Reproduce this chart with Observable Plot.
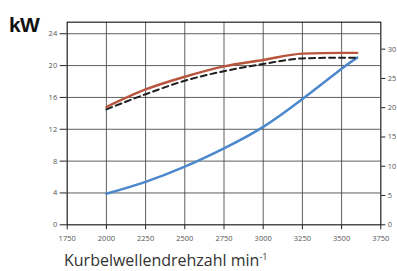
<!DOCTYPE html>
<html>
<head>
<meta charset="utf-8">
<script src="https://cdn.jsdelivr.net/npm/d3@7"></script>
<script src="https://cdn.jsdelivr.net/npm/@observablehq/plot@0.6"></script>
<style>
  html, body { margin: 0; padding: 0; background: #fff; }
  #chart { width: 397px; height: 271px; overflow: hidden; }
</style>
</head>
<body>
<div id="chart"></div>
<script>
const rpm = [2000, 2250, 2500, 2750, 3000, 3250, 3500, 3600];
const powerKW = [14.8, 17.0, 18.6, 19.9, 20.7, 21.5, 21.6, 21.6];
const dashedKW = [14.5, 16.4, 18.1, 19.3, 20.2, 20.9, 21.0, 21.0];
const blueKW = [3.9, 5.4, 7.3, 9.6, 12.3, 15.8, 19.6, 21.0];
const xTicks = [1750, 2000, 2250, 2500, 2750, 3000, 3250, 3500, 3750];
const xGrid = [2000, 2250, 2500, 2750, 3000, 3250, 3500];
const yTicks = [0, 4, 8, 12, 16, 20, 24];
const psTicks = [0, 5, 10, 15, 20, 25, 30];
const PS_PER_KW = 1.35962;
const yLabel = "kW";
const xLabel = "Kurbelwellendrehzahl min";
const xLabelSup = "-1";

const toRows = (vals) => rpm.map((r, i) => ({rpm: r, v: vals[i]}));

const tickFont = {fontSize: 7.5, fill: "#555"};

const plot = Plot.plot({
  width: 397,
  height: 271,
  marginLeft: 66.7,
  marginRight: 16.7,
  marginTop: 21.7,
  marginBottom: 46.7,
  style: {fontFamily: "'Open Sans', 'Liberation Sans', sans-serif", background: "#fff"},
  x: {domain: [1750, 3750]},
  y: {domain: [0, 25.45]},
  marks: [
    Plot.gridX(xGrid, {stroke: "#444", strokeOpacity: 0.85, strokeWidth: 1}),
    Plot.gridY(yTicks.filter(d => d > 0), {stroke: "#444", strokeOpacity: 0.85, strokeWidth: 1}),
    Plot.frame({stroke: "#222", strokeWidth: 1.2}),
    Plot.axisX(xTicks, {tickSize: 5, tickPadding: 6, stroke: "#222", ...tickFont, label: null, tickFormat: d => String(d)}),
    Plot.axisY(yTicks, {anchor: "left", tickSize: 7, tickPadding: 3, stroke: "#222", ...tickFont, label: null}),
    Plot.axisY(psTicks.map(p => p / PS_PER_KW), {anchor: "right", tickSize: 4, tickPadding: 3, stroke: "#222", ...tickFont, label: null, tickFormat: d => String(Math.round(d * PS_PER_KW))}),
    Plot.line(toRows(blueKW), {x: "rpm", y: "v", stroke: "#4b87cc", strokeWidth: 2.4, curve: "natural"}),
    Plot.line(toRows(powerKW), {x: "rpm", y: "v", stroke: "#b8553d", strokeWidth: 2.4, curve: "monotone-x"}),
    Plot.line(toRows(dashedKW), {x: "rpm", y: "v", stroke: "#1e1e1e", strokeWidth: 2, strokeDasharray: "6,4", curve: "monotone-x"})
  ]
});

const svg = d3.select(plot);
svg.append("text")
  .attr("x", 9).attr("y", 31.5)
  .attr("text-anchor", "start")
  .attr("font-family", "'Liberation Sans', Arial, sans-serif")
  .attr("font-size", 21).attr("font-weight", "bold").attr("fill", "#111")
  .attr("letter-spacing", -0.8)
  .text(yLabel);
const xl = svg.append("text")
  .attr("x", 64).attr("y", 265.5)
  .attr("text-anchor", "start")
  .attr("font-family", "'Open Sans', 'Liberation Sans', sans-serif")
  .attr("font-size", 16).attr("fill", "#333");
xl.append("tspan").text(xLabel);
xl.append("tspan").attr("font-size", 9).attr("dy", -6).text(xLabelSup);

document.getElementById("chart").appendChild(plot);
</script>
</body>
</html>
